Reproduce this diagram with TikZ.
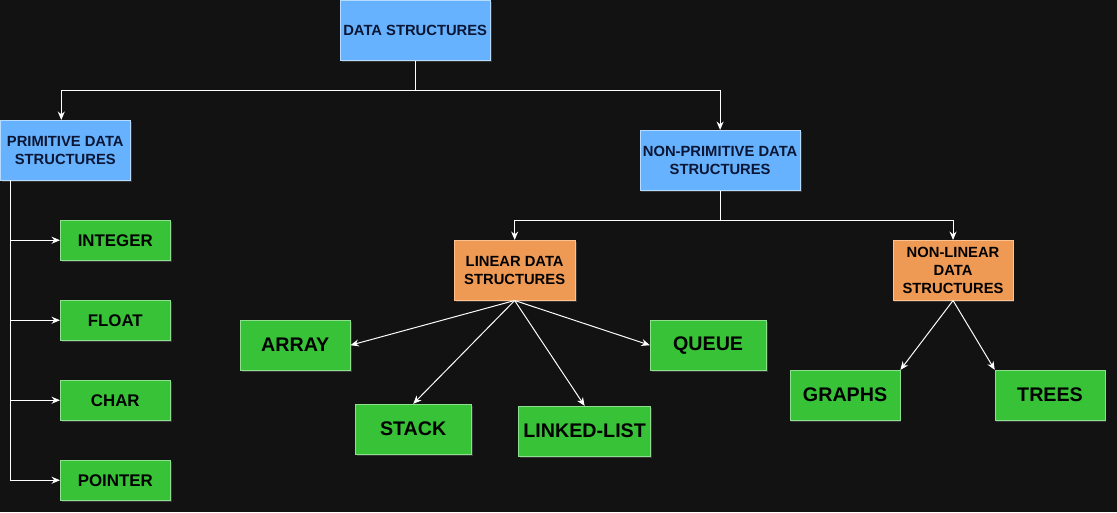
\documentclass[tikz,border=0pt]{standalone}
\usepackage{fontspec}
\setmainfont{Liberation Sans}
\usetikzlibrary{positioning}
\usetikzlibrary{arrows.meta}
\usetikzlibrary{shadows}
\definecolor{bgdark}{HTML}{121212}
\definecolor{boxblue}{HTML}{66B2FF}
\definecolor{edgeblue}{HTML}{B8DCFF}
\definecolor{boxgreen}{HTML}{38C238}
\definecolor{edgegreen}{HTML}{8EE08E}
\definecolor{boxorange}{HTML}{EE9A55}
\definecolor{edgeorange}{HTML}{FFC18F}
\definecolor{navytext}{HTML}{0A1633}
\tikzset{
    glow/.style = {drop shadow={fill=white, opacity=0.15, shadow xshift=1pt, shadow yshift=-1pt}},
    group/.style = {rectangle, glow, fill=boxblue, draw=edgeblue, text=navytext, align=center,
        font=\bfseries\fontsize{10.5}{12.8}\selectfont, minimum height=1.5cm, inner sep=2pt},
    family/.style = {group, fill=boxorange, draw=edgeorange, text=black},
    leaf/.style = {rectangle, glow, fill=boxgreen, draw=edgegreen, text=black,
        font=\bfseries\fontsize{12}{14}\selectfont, minimum width=2.75cm, minimum height=1cm},
    bigleaf/.style = {leaf, font=\bfseries\fontsize{14}{16}\selectfont, minimum height=1.25cm},
    wire/.style = {draw=white, line width=0.7pt},
    link/.style = {wire, -{Stealth[length=6pt, width=5pt]}}}

\begin{document}
\begin{tikzpicture}[x=0.025cm, y=-0.025cm, node distance=2cm, on grid]
    \fill[bgdark] (0,0) rectangle (1117,512);
    \node[group, minimum width=3.75cm] (ds) at (415,30) {DATA STRUCTURES};
    \node[group, minimum width=3.25cm] (prim) at (65,150) {PRIMITIVE DATA\\STRUCTURES};
    \node[group, minimum width=4cm] (nonprim) at (720,160) {NON-PRIMITIVE DATA\\STRUCTURES};
    \node[family, minimum width=3.025cm] (lin) at (514.5,270) {LINEAR DATA\\STRUCTURES};
    \node[family, minimum width=3cm] (nonlin) at (953,270) {NON-LINEAR\\DATA\\STRUCTURES};
    % primitive column
    \node[leaf] (int) at (115,240) {INTEGER};
    \node[leaf, below=of int] (flt) {FLOAT};
    \node[leaf, below=of flt] (chr) {CHAR};
    \node[leaf, below=of chr] (ptr) {POINTER};
    % non-primitive leaves
    \node[bigleaf] (arr) at (295,345) {ARRAY};
    \node[bigleaf, minimum width=2.9cm] (que) at (708,345) {QUEUE};
    \node[bigleaf, minimum width=2.9cm] (stk) at (413,429) {STACK};
    \node[bigleaf, minimum width=3.275cm] (lnk) at (584.5,431) {LINKED-LIST};
    \node[bigleaf] (gra) at (845,395) {GRAPHS};
    \node[bigleaf] (tre) at (1050,395) {TREES};
    % connectors
    \coordinate (split top) at (415,90);
    \coordinate (split mid) at (720,220);
    \coordinate (spine) at (10,180);
    \draw[wire] (ds) -- (split top);
    \draw[link] (split top) -| ([xshift=-4*0.025cm]prim.north);
    \draw[link] (split top) -| (nonprim);
    \draw[wire] (nonprim) -- (split mid);
    \draw[link] (split mid) -| (lin);
    \draw[link] (split mid) -| (nonlin);
    \foreach \leafname in {int,flt,chr,ptr}
        \draw[link] (spine) |- (\leafname.west);
    \foreach \leafname/\anchorname in {arr/east,que/west,stk/north,lnk/north}
        \draw[link] (lin.south) -- (\leafname.\anchorname);
    \draw[link] (nonlin.south) -- (gra.north east);
    \draw[link] (nonlin.south) -- (tre.north west);
\end{tikzpicture}
\end{document}
